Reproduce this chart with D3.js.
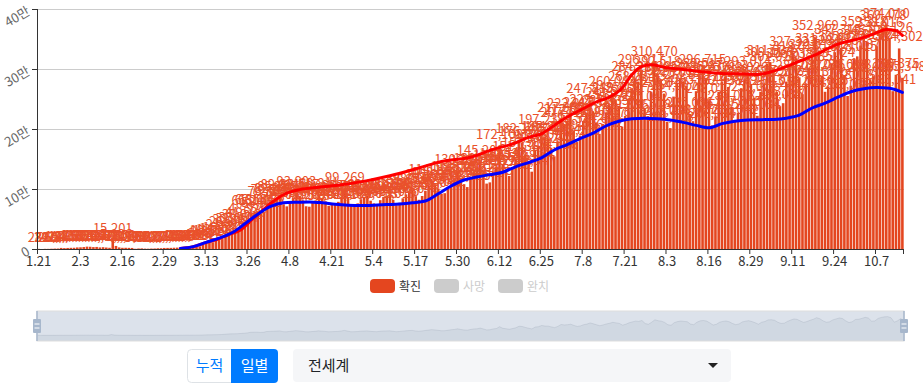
<!DOCTYPE html>
<html lang="ko">
<head>
<meta charset="UTF-8">
<title>전세계 일별 확진</title>
<script src="https://cdn.jsdelivr.net/npm/d3@7"></script>
<style>
  body { margin: 0; background: #fff; }
  svg text { font-family: "Noto Sans CJK KR", "Noto Sans", sans-serif; }
</style>
</head>
<body>
<svg id="chart" width="923" height="389"></svg>
<script>
// 일별 확진자 (월별)
const jan = [282, 32, 267, 265, 474, 694, 784, 1795, 1472, 1753, 1982];
const feb = [2102, 2604, 2836, 3239, 3915, 3723, 3176, 3442, 2667, 3018, 2490, 2024, 15201, 5106, 2653,
  2014, 2050, 1889, 1751, 394, 889, 1022, 630, 537, 792, 880, 1204, 1314, 1775];
const mar = [1814, 1903, 2154, 2296, 2631, 2918, 3902, 3781, 3889, 4114, 4592, 6834, 9812, 10917, 11236,
  13908, 14821, 16534, 21027, 26843, 30211, 31057, 33924, 38012, 41538, 48970, 61240, 62534, 63017, 58921, 61055];
const apr = [76800, 79512, 82037, 85190, 89021, 74530, 71025, 78044, 85310, 93903, 88517, 81042, 71209, 70518, 76632,
  81050, 89811, 84036, 79527, 72016, 74102, 76325, 78614, 86531, 99269, 86043, 72180, 73526, 76044, 83012];
const may = [85510, 89023, 80514, 76031, 74018, 81420, 86915, 88532, 90241, 81806, 73019, 77045, 84517, 91032, 96018,
  98524, 88031, 82046, 88317, 97025, 105036, 114127, 108052, 100613, 92048, 93012, 101037, 112045, 118026, 130214, 118031];
const jun = [108040, 103215, 117032, 128019, 131044, 145206, 128033, 109017, 111045, 128522, 136518, 172108, 140527, 132614, 121732,
  135918, 151236, 182147, 176623, 157510, 142135, 128847, 165412, 172309, 197231, 185826, 184317, 168729, 154536, 179514];
const jul = [217305, 207716, 212638, 222817, 197524, 178215, 189036, 213417, 224738, 247815, 229716, 211023, 191942, 208517, 227835,
  241326, 260043, 249318, 238627, 203915, 221836, 250317, 268024, 284216, 279035, 296917, 235042, 221518, 262034, 310470, 292518];
const aug = [283027, 259014, 212036, 201518, 254027, 275013, 285436, 279024, 271815, 225036, 213027, 263014, 289517, 296715, 285036,
  248017, 206034, 221015, 262038, 279024, 287013, 270036, 237018, 213042, 227015, 268031, 283026, 293014, 275038, 252017, 222034];
const sep = [262013, 276025, 309117, 311534, 301026, 262018, 238035, 243017, 279024, 306038, 327323, 318016, 286037, 258024, 276013,
  301035, 322018, 352969, 331024, 289036, 262015, 271038, 309024, 328016, 347315, 335027, 289014, 255036, 272018, 318025];
const oct = [321037, 339014, 359318, 345026, 283015, 288037, 338024, 358016, 369478, 374010, 350126, 263041, 290375, 334302, 285348];

// [월, 시작일, 값]
const months = [[1, 21, jan], [2, 1, feb], [3, 1, mar], [4, 1, apr], [5, 1, may],
  [6, 1, jun], [7, 1, jul], [8, 1, aug], [9, 1, sep], [10, 1, oct]];

// 추세선 (빨강 / 파랑)
const redLine = [["3.5", 1000], ["3.9", 4000], ["3.13", 11000], ["3.17", 17000], ["3.20", 24000], ["3.24", 33000],
  ["3.27", 48000], ["3.30", 62000], ["4.3", 80000], ["4.7", 93000], ["4.11", 99000], ["4.17", 103000], ["4.24", 107000],
  ["5.2", 114000], ["5.9", 122000], ["5.18", 135000], ["5.25", 146000], ["6.3", 153000], ["6.10", 166000], ["6.16", 175000],
  ["6.21", 186000], ["6.25", 192000], ["6.29", 206000], ["7.3", 220000], ["7.8", 234000], ["7.12", 245000], ["7.16", 253000],
  ["7.20", 268000], ["7.23", 290000], ["7.26", 304000], ["7.29", 307000], ["8.2", 303000], ["8.8", 299000], ["8.13", 296000],
  ["8.19", 293000], ["8.25", 292000], ["8.31", 291000], ["9.4", 295000], ["9.8", 302000], ["9.14", 315000], ["9.19", 326000],
  ["9.23", 337000], ["9.26", 343000], ["10.2", 351000], ["10.6", 358000], ["10.10", 366000], ["10.13", 364000], ["10.15", 356000]];
const blueLine = [["3.5", 1000], ["3.9", 4000], ["3.13", 11000], ["3.17", 18000], ["3.21", 27000], ["3.25", 42000],
  ["3.29", 58000], ["4.2", 71000], ["4.6", 77000], ["4.10", 78000], ["4.14", 78500], ["4.18", 77000], ["4.22", 74500],
  ["4.26", 73000], ["4.30", 72500], ["5.4", 73000], ["5.8", 74000], ["5.12", 75000], ["5.16", 77000], ["5.20", 80000],
  ["5.24", 92000], ["5.28", 105000], ["6.1", 115000], ["6.5", 120000], ["6.9", 124000], ["6.13", 128000], ["6.17", 137000],
  ["6.21", 144000], ["6.25", 152000], ["6.29", 165000], ["7.3", 174000], ["7.7", 184000], ["7.11", 193000], ["7.15", 205000],
  ["7.19", 213000], ["7.23", 217000], ["7.27", 218000], ["7.31", 217000], ["8.4", 215000], ["8.8", 211000], ["8.12", 206000],
  ["8.16", 202000], ["8.20", 209000], ["8.24", 213000], ["8.28", 215000], ["9.1", 215500], ["9.5", 216000], ["9.9", 218000],
  ["9.13", 223000], ["9.17", 235000], ["9.21", 243000], ["9.25", 253000], ["9.29", 262000], ["10.3", 267000], ["10.7", 269000],
  ["10.11", 268000], ["10.15", 261000]];

const xTickLabels = ["1.21", "2.3", "2.16", "2.29", "3.13", "3.26", "4.8", "4.21", "5.4", "5.17", "5.30",
  "6.12", "6.25", "7.8", "7.21", "8.3", "8.16", "8.29", "9.11", "9.24", "10.7"];
const yTicks = [0, 100000, 200000, 300000, 400000];
const yTickLabels = ["0", "10만", "20만", "30만", "40만"];
const legendItems = [["확진", true], ["사망", false], ["완치", false]];

const barColor = "#e4461f";
const labelColor = "#e9512b";

const cats = [], daily = [];
months.forEach(([m, start, vals]) => vals.forEach((v, i) => {
  cats.push(m + "." + (start + i));
  daily.push(v);
}));

const pL = 37, pR = 904, pT = 9, pB = 249;
const svg = d3.select("#chart");

const x = d3.scaleBand().domain(cats).range([pL, pR]).padding(0);
const bw = x.bandwidth();
const y = d3.scaleLinear().domain([0, 400000]).range([pB, pT]);

// grid
svg.append("g").selectAll("line").data(yTicks.slice(1)).join("line")
  .attr("x1", pL).attr("x2", pR)
  .attr("y1", d => y(d) + 0.5).attr("y2", d => y(d) + 0.5)
  .attr("stroke", "#ccc").attr("stroke-width", 1);

// bars
svg.append("g").selectAll("rect").data(daily).join("rect")
  .attr("x", (d, i) => x(cats[i]) + bw * 0.1)
  .attr("width", bw * 0.8)
  .attr("y", d => y(d))
  .attr("height", d => pB - y(d))
  .attr("fill", barColor);

// bar labels
const fmt = d3.format(",");
svg.append("g").selectAll("text").data(daily).join("text")
  .attr("x", (d, i) => x(cats[i]) + bw / 2)
  .attr("y", d => y(d) - 7)
  .attr("text-anchor", "middle")
  .attr("font-size", 13)
  .attr("fill", labelColor)
  .text(d => fmt(d));

// lines
const line = d3.line()
  .x(d => x(d[0]) + bw / 2)
  .y(d => y(d[1]))
  .curve(d3.curveMonotoneX);
svg.append("path").attr("d", line(redLine))
  .attr("fill", "none").attr("stroke", "#ff0000").attr("stroke-width", 3)
  .attr("stroke-linejoin", "round").attr("stroke-linecap", "round");
svg.append("path").attr("d", line(blueLine))
  .attr("fill", "none").attr("stroke", "#0000ff").attr("stroke-width", 3)
  .attr("stroke-linejoin", "round").attr("stroke-linecap", "round");

// y axis
const yAx = svg.append("g");
yAx.append("line").attr("x1", pL + 0.5).attr("x2", pL + 0.5).attr("y1", pT).attr("y2", pB)
  .attr("stroke", "#333");
yAx.selectAll(".tk").data(yTicks).join("line").attr("class", "tk")
  .attr("x1", pL - 5).attr("x2", pL).attr("y1", d => y(d) + 0.5).attr("y2", d => y(d) + 0.5)
  .attr("stroke", "#333");
yAx.selectAll("text").data(yTicks).join("text")
  .attr("transform", d => `translate(${pL - 8},${y(d) + 2}) rotate(-30)`)
  .attr("text-anchor", "end")
  .attr("dominant-baseline", "middle")
  .attr("font-size", 13)
  .attr("fill", "#666")
  .text((d, i) => yTickLabels[i]);

// x axis
const xAx = svg.append("g");
xAx.append("line").attr("x1", pL).attr("x2", pR).attr("y1", pB + 0.5).attr("y2", pB + 0.5)
  .attr("stroke", "#333");
xAx.selectAll(".tk").data(xTickLabels.concat([null])).join("line").attr("class", "tk")
  .attr("x1", d => d ? x(d) + 0.5 : pR - 0.5).attr("x2", d => d ? x(d) + 0.5 : pR - 0.5)
  .attr("y1", pB).attr("y2", pB + 5)
  .attr("stroke", "#333");
xAx.selectAll("text").data(xTickLabels).join("text")
  .attr("x", d => x(d) + bw / 2)
  .attr("y", 266)
  .attr("text-anchor", "middle")
  .attr("font-size", 13)
  .attr("fill", "#333")
  .text(d => d);

// legend
const lg = svg.append("g");
const lgX = [370, 434, 498];
legendItems.forEach(([name, on], i) => {
  lg.append("rect").attr("x", lgX[i]).attr("y", 279).attr("width", 25).attr("height", 14).attr("rx", 4)
    .attr("fill", on ? barColor : "#ccc");
  lg.append("text").attr("x", lgX[i] + 29).attr("y", 290.5).attr("font-size", 12)
    .attr("fill", on ? "#333" : "#ccc").text(name);
});

// data zoom slider
const sl = { x: 37, y: 311, w: 867, h: 30 };
const sx = d3.scaleLinear().domain([0, daily.length - 1]).range([sl.x, sl.x + sl.w]);
const ext = d3.extent(daily);
const pad = (ext[1] - ext[0]) * 0.3;
const sy = d3.scaleLinear().domain([ext[0] - pad, ext[1] + pad]).range([sl.y + sl.h, sl.y]);
const slg = svg.append("g");
slg.append("path")
  .attr("d", d3.area().x((d, i) => sx(i)).y0(sl.y + sl.h).y1(d => sy(d))(daily))
  .attr("fill", "rgba(47,69,84,0.09)");
slg.append("path")
  .attr("d", d3.line().x((d, i) => sx(i)).y(d => sy(d))(daily))
  .attr("fill", "none").attr("stroke", "rgba(47,69,84,0.3)").attr("stroke-width", 0.5);
slg.append("rect").attr("x", sl.x).attr("y", sl.y).attr("width", sl.w).attr("height", sl.h)
  .attr("fill", "rgba(167,183,204,0.4)").attr("stroke", "#ddd");
[sl.x, sl.x + sl.w].forEach(hx => {
  slg.append("line").attr("x1", hx).attr("x2", hx).attr("y1", sl.y).attr("y2", sl.y + sl.h)
    .attr("stroke", "#a7b7cc").attr("stroke-width", 1.5);
  slg.append("rect").attr("x", hx - 4).attr("y", sl.y + 8).attr("width", 8).attr("height", 14).attr("rx", 1)
    .attr("fill", "#a7b7cc");
  [sl.y + 13, sl.y + 17].forEach(ly => slg.append("line")
    .attr("x1", hx - 2.5).attr("x2", hx + 2.5).attr("y1", ly).attr("y2", ly)
    .attr("stroke", "#fff").attr("stroke-width", 1));
});

// controls
const ctl = svg.append("g");
ctl.append("path").attr("d", "M191.5,349.5 h40 v33 h-40 a4,4 0 0 1 -4,-4 v-25 a4,4 0 0 1 4,-4 z")
  .attr("fill", "#fff").attr("stroke", "#dee2e6");
ctl.append("path").attr("d", "M231,349 h43 a4,4 0 0 1 4,4 v26 a4,4 0 0 1 -4,4 h-43 z")
  .attr("fill", "#007bff");
ctl.append("text").attr("x", 209.5).attr("y", 371).attr("text-anchor", "middle").attr("font-size", 15)
  .attr("fill", "#007bff").text("누적");
ctl.append("text").attr("x", 254.5).attr("y", 371).attr("text-anchor", "middle").attr("font-size", 15)
  .attr("fill", "#fff").text("일별");
ctl.append("rect").attr("x", 293).attr("y", 349).attr("width", 438).attr("height", 33).attr("rx", 4)
  .attr("fill", "#f5f6f8");
ctl.append("text").attr("x", 308).attr("y", 371).attr("font-size", 15).attr("fill", "#212529").text("전세계");
ctl.append("path").attr("d", "M708,363 h10 l-5,5 z").attr("fill", "#222");
</script>
</body>
</html>
